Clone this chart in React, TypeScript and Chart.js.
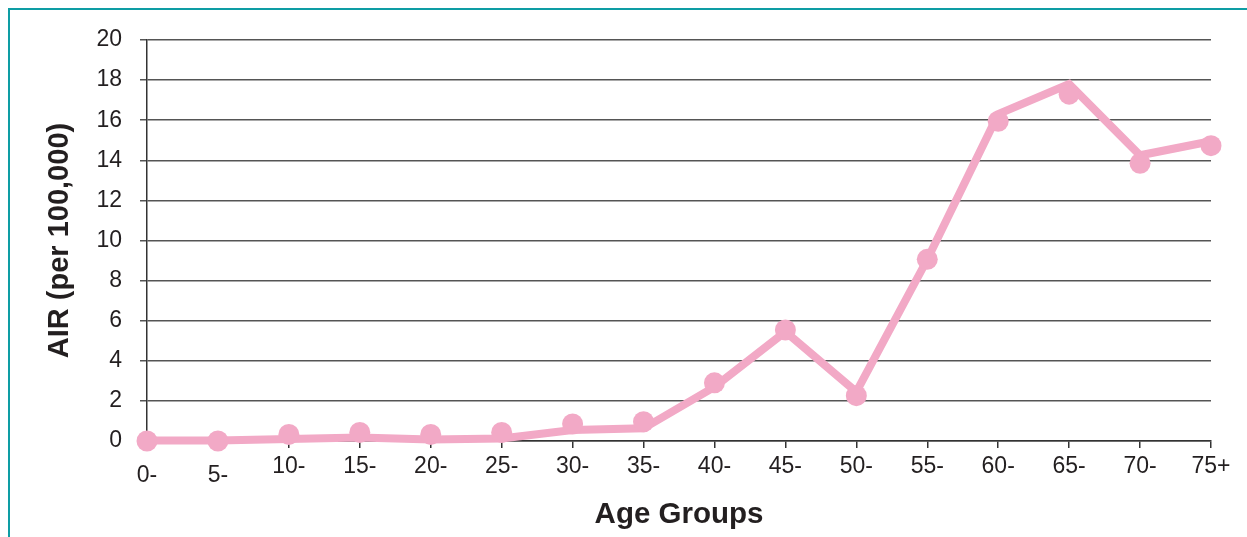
import React, { useEffect, useRef } from "react";
import { Chart, registerables } from "chart.js";

Chart.register(...registerables);

const ageGroups = ["0-", "5-", "10-", "15-", "20-", "25-", "30-", "35-", "40-", "45-", "50-", "55-", "60-", "65-", "70-", "75+"];
const lineValues = [0.03, 0.03, 0.1, 0.18, 0.08, 0.13, 0.55, 0.63, 2.7, 5.45, 2.45, 9.05, 16.3, 17.8, 14.25, 14.95];
const markerValues = [0, 0, 0.33, 0.43, 0.33, 0.43, 0.85, 0.96, 2.9, 5.54, 2.26, 9.06, 15.95, 17.3, 13.85, 14.73];
const yTicks = { min: 0, max: 20, step: 2 };
const yTitle = "AIR (per 100,000)";
const xTitle = "Age Groups";

const PINK = "#F2A9C6";
const TEXT = "#231F20";
const FONT = "'Liberation Sans', Arial, Helvetica, sans-serif";

export default function App() {
  const ref = useRef<HTMLCanvasElement>(null);
  useEffect(() => {
    if (!ref.current) return;
    const chart = new Chart(ref.current, {
      type: "line",
      data: {
        labels: ageGroups,
        datasets: [
          {
            label: "markers",
            data: markerValues,
            showLine: false,
            pointRadius: 10.5,
            pointHoverRadius: 10.5,
            pointBackgroundColor: PINK,
            pointBorderWidth: 0,
            borderColor: PINK,
            backgroundColor: PINK,
            clip: false,
          },
          {
            label: "line",
            data: lineValues,
            borderColor: PINK,
            borderWidth: 8,
            borderJoinStyle: "miter",
            borderCapStyle: "butt",
            pointRadius: 0,
            tension: 0,
            fill: false,
            clip: false,
          },
        ],
      },
      options: {
        animation: false,
        responsive: false,
        maintainAspectRatio: false,
        devicePixelRatio: 1,
        layout: { padding: { left: 0, right: 36, top: 40, bottom: 0 } },
        plugins: { legend: { display: false }, tooltip: { enabled: false } },
        scales: {
          x: {
            type: "category",
            offset: false,
            afterFit: (s: any) => {
              s.height = 96;
            },
            grid: {
              display: true,
              drawOnChartArea: false,
              drawTicks: true,
              tickLength: 7,
              color: "#333333",
              lineWidth: 1.5,
            },
            border: { display: true, color: "#333333", width: 1.5 },
            ticks: {
              autoSkip: false,
              maxRotation: 0,
              minRotation: 0,
              padding: 5,
              color: TEXT,
              font: (ctx: any) => ({
                family: FONT,
                size: 23,
                lineHeight: ctx.index < 2 ? 1.95 : 1.2,
              }),
            },
            title: {
              display: true,
              text: xTitle,
              color: TEXT,
              font: { family: FONT, size: 29.5, weight: "bold", lineHeight: 1.2 },
              padding: { top: 0, bottom: 4 },
            },
          },
          y: {
            min: yTicks.min,
            max: yTicks.max,
            afterFit: (s: any) => {
              s.width = 147;
            },
            grid: {
              color: "#555555",
              lineWidth: 1.5,
              tickLength: 7,
              drawTicks: true,
            },
            border: { display: true, color: "#333333", width: 1.5 },
            ticks: {
              stepSize: yTicks.step,
              padding: 18,
              color: TEXT,
              font: { family: FONT, size: 23 },
            },
            title: {
              display: true,
              text: yTitle,
              color: TEXT,
              font: { family: FONT, size: 29, weight: "bold", lineHeight: 1.2 },
              padding: { top: 43, bottom: 0 },
            },
          },
        },
      },
    } as any);
    return () => chart.destroy();
  }, []);

  return (
    <div style={{ position: "fixed", left: 0, top: 0, width: 1247, height: 537, background: "#fff" }}>
      <canvas ref={ref} width={1247} height={537} style={{ position: "absolute", left: 0, top: 0 }} />
      <div
        style={{
          position: "absolute",
          left: 7.5,
          top: 7.5,
          right: 0,
          height: 600,
          borderLeft: "2.5px solid #0E9DA4",
          borderTop: "2px solid #0E9DA4",
          pointerEvents: "none",
        }}
      />
    </div>
  );
}
